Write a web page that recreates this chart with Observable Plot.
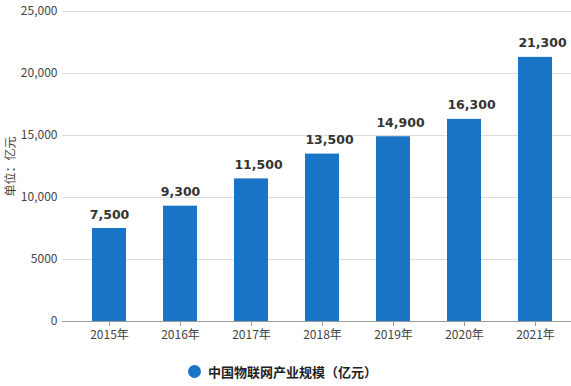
<!DOCTYPE html>
<html><head><meta charset="utf-8">
<script src="https://cdn.jsdelivr.net/npm/d3@7"></script>
<script src="https://cdn.jsdelivr.net/npm/@observablehq/plot@0.6"></script>
<style>
body{margin:0;background:#fff;font-family:"Noto Sans CJK SC","Noto Sans",sans-serif;}
#wrap{position:relative;width:571px;height:386px;overflow:hidden;}
#legend{position:absolute;left:188px;top:362px;display:flex;align-items:center;font-size:13px;font-weight:bold;color:#222;}
#legend .dot{width:13px;height:13px;border-radius:50%;background:#1a74c6;margin-right:7px;}
</style>
</head><body>
<div id="wrap"><div id="chart"></div><div id="legend"><span class="dot"></span><span id="legendText"></span></div></div>
<script>
const years = ["2015年","2016年","2017年","2018年","2019年","2020年","2021年"];
const values = [7500, 9300, 11500, 13500, 14900, 16300, 21300];
const yTicks = [0, 5000, 10000, 15000, 20000, 25000];
const yTickLabels = ["0", "5000", "10,000", "15,000", "20,000", "25,000"];
const seriesName = "中国物联网产业规模（亿元）";
const yTitle = "单位：亿元";

const data = years.map((y, i) => ({year: y, value: values[i], label: d3.format(",")(values[i])}));
const barColor = "#1a74c6";

const chart = Plot.plot({
  width: 571,
  height: 345,
  marginTop: 11,
  marginBottom: 24,
  marginLeft: 62,
  marginRight: 0,
  style: {fontFamily: "'Noto Sans CJK SC','Noto Sans',sans-serif", background: "#fff"},
  x: {type: "band", domain: years, range: [71.25, 571.75], paddingInner: 0.524, paddingOuter: 0.262},
  y: {domain: [0, 25000]},
  marks: [
    Plot.gridY(yTicks, {stroke: "#dcdcdc", strokeOpacity: 1}),
    Plot.barY(data, {x: "year", y: "value", fill: barColor}),
    Plot.ruleY([0], {stroke: "#9a9a9a"}),
    Plot.axisY({ticks: yTicks, tickFormat: d => yTickLabels[yTicks.indexOf(d)], tickSize: 0, tickPadding: 5, fontSize: 12, fill: "#444", label: null}),
    Plot.axisX({tickSize: 5, tickPadding: 4, fontSize: 12, fill: "#444", stroke: "#9a9a9a", label: null}),
    Plot.text(data.filter(d => d.value < 10000), {x: "year", y: "value", text: "label", dy: -10, lineAnchor: "bottom", fontSize: 12.5, fontWeight: "bold", fill: "#333", fontFamily: "DejaVu Sans"}),
    Plot.text(data.filter(d => d.value >= 10000), {x: "year", y: "value", text: "label", dy: -10, dx: 7, lineAnchor: "bottom", fontSize: 12.5, fontWeight: "bold", fill: "#333", fontFamily: "DejaVu Sans"}),
    Plot.text([yTitle], {frameAnchor: "left", dx: -51, rotate: -90, textAnchor: "middle", fontSize: 12, fill: "#444"})
  ]
});
document.getElementById("chart").appendChild(chart);
document.getElementById("legendText").textContent = seriesName;
</script>
</body></html>
